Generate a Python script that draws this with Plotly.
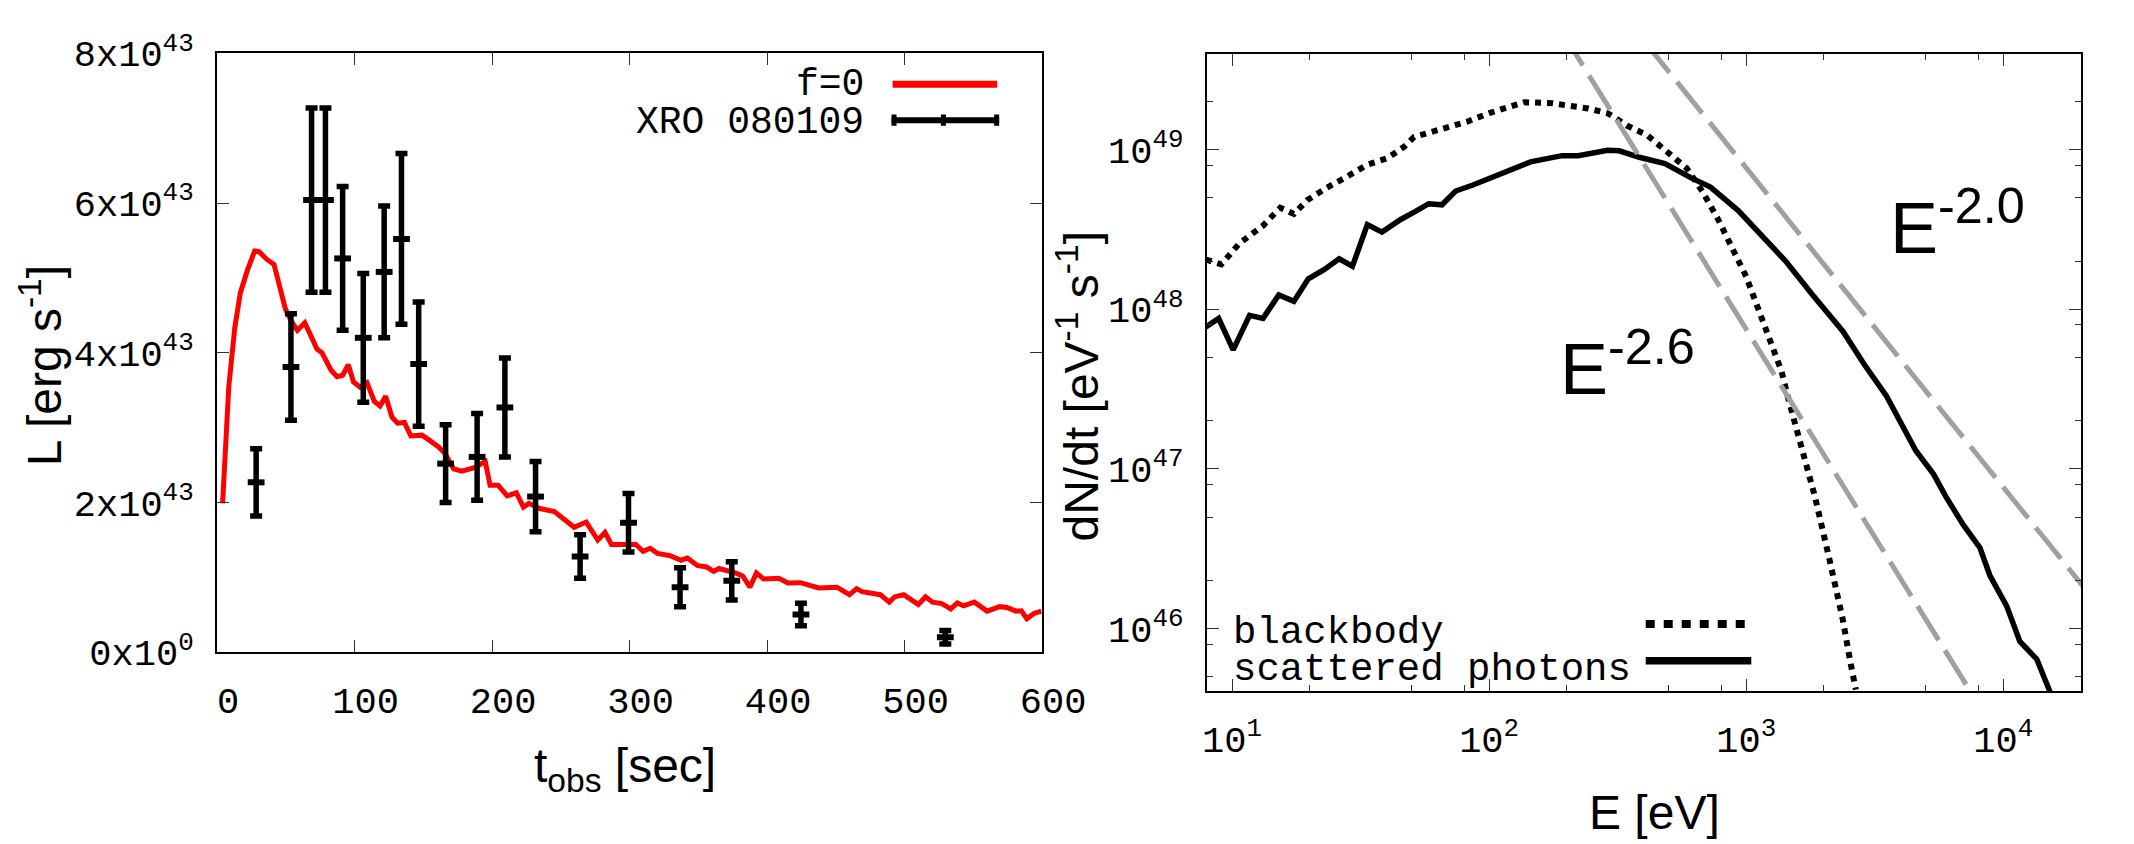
import plotly.graph_objects as go

W, H = 2134, 844

# ---------------- Left panel data ----------------
L_UNIT = 1e43
t_model = [4.0, 6.0, 8.5, 12.9, 16.9, 22.0, 27.3, 30.5, 36.0, 41.4, 49.6, 53.7, 58.4, 63.8,
           72.7, 76.3, 82.8, 87.2, 91.3, 95.4, 99.2, 104.1, 109.0, 114.4, 118.5, 122.6,
           127.2, 131.3, 136.2, 140.9, 149.0, 154.5, 161.3, 166.0, 172.0, 178.0, 187.7,
           195.0, 198.5, 204.4, 211.0, 217.6, 222.8, 226.8, 234.7, 245.3, 259.7, 268.4,
           276.9, 282.1, 286.8, 295.3, 304.5, 309.8, 315.0, 320.3, 329.5, 337.4, 342.1,
           349.2, 355.9, 361.1, 365.0, 376.9, 382.2, 387.5, 392.2, 397.4, 408.5, 415.1,
           424.3, 437.5, 450.7, 459.9, 465.1, 469.1, 482.3, 488.8, 492.7, 499.3, 509.9,
           515.2, 520.4, 527.0, 533.6, 538.4, 542.9, 550.7, 560.0, 569.2, 574.4, 581.0,
           584.9, 588.9, 594.1, 599.4]
L_model = [1.99, 2.75, 3.55, 4.34, 4.80, 5.10, 5.36, 5.35, 5.25, 5.18, 4.59, 4.43, 4.30, 4.40,
           4.05, 4.00, 3.77, 3.68, 3.70, 3.84, 3.61, 3.54, 3.60, 3.35, 3.29, 3.42,
           3.14, 3.06, 3.07, 2.89, 2.90, 2.83, 2.74, 2.65, 2.45, 2.42, 2.47,
           2.55, 2.23, 2.23, 2.09, 2.13, 1.94, 1.99, 1.92, 1.88, 1.67, 1.74,
           1.50, 1.60, 1.44, 1.44, 1.44, 1.35, 1.39, 1.32, 1.29, 1.23, 1.26,
           1.16, 1.14, 1.08, 1.12, 1.06, 1.02, 0.87, 1.06, 0.98, 0.99, 0.925,
           0.93, 0.86, 0.87, 0.77, 0.85, 0.81, 0.77, 0.67, 0.74, 0.77, 0.64,
           0.74, 0.67, 0.65, 0.58, 0.66, 0.62, 0.67, 0.55, 0.61, 0.60, 0.55,
           0.555, 0.45, 0.52, 0.55]

t_obs = [28.4, 53.7, 68.7, 78.8, 91.3, 106.3, 121.5, 134.1, 146.6, 166.2, 189.1, 209.3,
         231.6, 264.0, 299.2, 336.7, 374.3, 424.6, 529.6]
L_obs = [2.27, 3.81, 6.04, 6.04, 5.26, 4.20, 5.08, 5.52, 3.85, 2.52, 2.61, 3.27,
         2.08, 1.28, 1.73, 0.87, 0.955, 0.505, 0.20]
L_err = [0.45, 0.71, 1.23, 1.23, 0.96, 0.86, 0.88, 1.14, 0.83, 0.52, 0.58, 0.66,
         0.47, 0.29, 0.39, 0.26, 0.255, 0.15, 0.09]

left_xticks = [0, 100, 200, 300, 400, 500, 600]
left_yticks = [0, 2e43, 4e43, 6e43, 8e43]
left_yticktext = ["0x10<sup>0</sup>", "2x10<sup>43</sup>", "4x10<sup>43</sup>",
                  "6x10<sup>43</sup>", "8x10<sup>43</sup>"]

# ---------------- Right panel data ----------------
E_scat = [7.91, 8.87, 10.1, 11.7, 13.2, 15.2, 17.4, 19.8, 22.8, 26.1, 29.4, 33.6, 38.3,
          45.3, 51.1, 58.2, 65.6, 74.1, 86.5, 111, 145, 192, 222, 289, 321, 384, 483,
          608, 726, 931, 1190, 1420, 1820, 2380, 2880, 3510, 4570, 5360, 5970, 6980,
          8110, 8870, 10300, 11600, 13500, 15200]
N_scat = [7.74e47, 8.77e47, 5.57e47, 9.16e47, 8.77e47, 1.23e48, 1.12e48, 1.55e48, 1.77e48,
          2.07e48, 1.86e48, 3.39e48, 3.04e48, 3.65e48, 4.06e48, 4.58e48, 4.51e48, 5.50e48,
          6.00e48, 6.98e48, 8.38e48, 9.16e48, 9.16e48, 9.89e48, 9.82e48, 8.95e48, 8.18e48,
          6.67e48, 5.82e48, 4.15e48, 2.76e48, 2.01e48, 1.22e48, 7.26e47, 4.51e47, 2.87e47,
          1.30e47, 9.25e46, 6.73e46, 4.48e46, 3.21e46, 2.15e46, 1.39e46, 8.32e45, 6.44e45,
          4.01e45]

E_bb = [7.91, 9.08, 10.7, 13.2, 15.4, 17.4, 19.6, 23.4, 28.1, 33.6, 40.2, 46.7, 51.1, 65.0,
        82.6, 100, 119, 137, 176, 210, 242, 289, 345, 412, 492, 587, 676, 780, 883, 1000,
        1110, 1240, 1370, 1470, 1580, 1730, 1850, 2100, 2370, 2550, 2670]
N_bb = [2.05e48, 1.91e48, 2.59e48, 3.34e48, 4.32e48, 3.95e48, 4.82e48, 5.78e48, 6.79e48,
        8.04e48, 8.83e48, 1.04e49, 1.20e49, 1.34e49, 1.50e49, 1.69e49, 1.85e49, 1.98e49,
        1.95e49, 1.89e49, 1.81e49, 1.69e49, 1.41e49, 1.23e49, 9.82e48, 7.64e48, 5.45e48,
        3.62e48, 2.41e48, 1.60e48, 1.02e48, 6.49e47, 4.12e47, 2.62e47, 1.74e47, 1.06e47,
        6.73e46, 2.78e46, 1.16e46, 6.00e45, 4.15e45]

E_pl26 = [150, 9000]
N_pl26 = [1.04e50, 2.47e45]
E_pl20 = [300, 25000]
N_pl20 = [8.53e49, 1.23e46]

right_xticks = [10, 100, 1000, 10000]
right_xticktext = ["10<sup>1</sup>", "10<sup>2</sup>", "10<sup>3</sup>", "10<sup>4</sup>"]
right_xminor = [20, 50, 80, 200, 500, 800, 2000, 5000, 8000]
right_yticks = [1e46, 1e47, 1e48, 1e49]
right_yticktext = ["10<sup>46</sup>", "10<sup>47</sup>", "10<sup>48</sup>", "10<sup>49</sup>"]
right_yminor = [5e45, 8e45, 2e46, 5e46, 8e46, 2e47, 5e47, 8e47, 2e48, 5e48, 8e48, 2e49]

# ---------------- helpers ----------------
def px(x):
    return x / W


def py(y):
    return 1 - y / H


MONO = "Liberation Mono"
SANS = "Liberation Sans"
TICKFONT = dict(family=MONO, size=37, color="black")

fig = go.Figure()

fig.add_trace(go.Scatter(x=t_model, y=[v * L_UNIT for v in L_model], mode="lines",
                         line=dict(color="#ff0000", width=5), xaxis="x", yaxis="y",
                         showlegend=False))
fig.add_trace(go.Scatter(x=t_obs, y=[v * L_UNIT for v in L_obs], mode="markers",
                         marker=dict(symbol="line-ew", size=12, color="black",
                                     line=dict(width=6, color="black")),
                         error_y=dict(type="data", array=[e * L_UNIT for e in L_err],
                                      thickness=5.5, width=6, color="black"),
                         xaxis="x", yaxis="y", showlegend=False))

fig.add_trace(go.Scatter(x=E_bb, y=N_bb, mode="lines",
                         line=dict(color="black", width=6, dash="dot"),
                         xaxis="x2", yaxis="y2", showlegend=False))
fig.add_trace(go.Scatter(x=E_scat, y=N_scat, mode="lines",
                         line=dict(color="black", width=5.5),
                         xaxis="x2", yaxis="y2", showlegend=False))
for ex, ny in ((E_pl26, N_pl26), (E_pl20, N_pl20)):
    fig.add_trace(go.Scatter(x=ex, y=ny, mode="lines",
                             line=dict(color="#a0a0a0", width=5, dash="40px,12px"),
                             xaxis="x2", yaxis="y2", showlegend=False))

axis_common = dict(showline=True, linewidth=2, linecolor="black", mirror="allticks",
                   ticks="inside", ticklen=12, tickwidth=1.2, tickcolor="#333333",
                   showgrid=False, zeroline=False, tickfont=TICKFONT)

fig.update_layout(
    width=W, height=H, autosize=False,
    margin=dict(l=0, r=0, t=0, b=0),
    paper_bgcolor="white", plot_bgcolor="white",
    xaxis=dict(domain=[px(218), px(1062)], range=[0, 600], tickmode="array",
               tickvals=left_xticks, ticklabelshift=11, ticklabelstandoff=14,
               anchor="y", **axis_common),
    yaxis=dict(domain=[py(666), py(30)], range=[0, 8e43], tickmode="array",
               tickvals=left_yticks, ticktext=left_yticktext, ticklabelstandoff=14,
               anchor="x", **axis_common),
    xaxis2=dict(domain=[px(1230.7), px(2125)], type="log", range=[0.9027, 4.303],
                tickmode="array", tickvals=right_xticks, ticktext=right_xticktext,
                ticklabelstandoff=14, anchor="y2",
                minor=dict(tickmode="array", tickvals=right_xminor, ticks="inside",
                           ticklen=6, tickcolor="#333333", tickwidth=1.2),
                **axis_common),
    yaxis2=dict(domain=[py(707.3), py(30.7)], type="log", range=[45.608, 49.599],
                tickmode="array", tickvals=right_yticks, ticktext=right_yticktext,
                ticklabelstandoff=14, anchor="x2",
                minor=dict(tickmode="array", tickvals=right_yminor, ticks="inside",
                           ticklen=6, tickcolor="#333333", tickwidth=1.2),
                **axis_common),
)

TITLEFONT = dict(family=SANS, size=48, color="black")
BIGFONT = dict(family=SANS, size=72, color="black")
ann = [
    dict(text="L [erg s<sup>-1</sup>]", x=px(37.5), y=py(361.7), textangle=-90, font=TITLEFONT),
    dict(text="t<sub>obs</sub> [sec]", x=px(635), y=py(790), font=TITLEFONT),
    dict(text="dN/dt [eV<sup>-1</sup> s<sup>-1</sup>]", x=px(1099), y=py(383.5),
         textangle=-90, font=TITLEFONT),
    dict(text="E [eV]", x=px(1688), y=py(836), font=TITLEFONT),
    dict(text="E<sup>-2.0</sup>", x=px(1927), y=py(210), xanchor="left", font=BIGFONT),
    dict(text="E<sup>-2.6</sup>", x=px(1590), y=py(359), xanchor="left", font=BIGFONT),
    dict(text="f=0", x=px(881.5), y=py(63), xanchor="right", font=dict(family=MONO, size=38, color="black")),
    dict(text="XRO 080109", x=px(881.5), y=py(103.6), xanchor="right",
         font=dict(family=MONO, size=38, color="black")),
    dict(text="blackbody", x=px(1255.4), y=py(645), xanchor="left",
         font=dict(family=MONO, size=39, color="black")),
    dict(text="scattered photons", x=px(1255.4), y=py(685), xanchor="left",
         font=dict(family=MONO, size=39, color="black")),
]
for a in ann:
    a.setdefault("xanchor", "center")
    a.setdefault("yanchor", "middle")
    a.update(xref="paper", yref="paper", showarrow=False)
fig.update_layout(annotations=ann)

# legend keys (paper coordinates)
shapes = [
    dict(type="line", x0=px(909), x1=px(1016), y0=py(63), y1=py(63),
         line=dict(color="#ff0000", width=7)),
    dict(type="line", x0=px(908), x1=px(1018), y0=py(101), y1=py(101),
         line=dict(color="black", width=6)),
    dict(type="line", x0=px(1679.5), x1=px(1787.5), y0=py(636), y1=py(636),
         line=dict(color="black", width=8, dash="9px,9px")),
    dict(type="line", x0=px(1679.5), x1=px(1787.5), y0=py(675), y1=py(675),
         line=dict(color="black", width=7.5)),
]
for xc in (910.5, 961, 1015.5):
    shapes.append(dict(type="line", x0=px(xc), x1=px(xc), y0=py(95), y1=py(107),
                       line=dict(color="black", width=5)))
for s in shapes:
    s.update(xref="paper", yref="paper")
fig.update_layout(shapes=shapes)

fig.write_html("out.html")
